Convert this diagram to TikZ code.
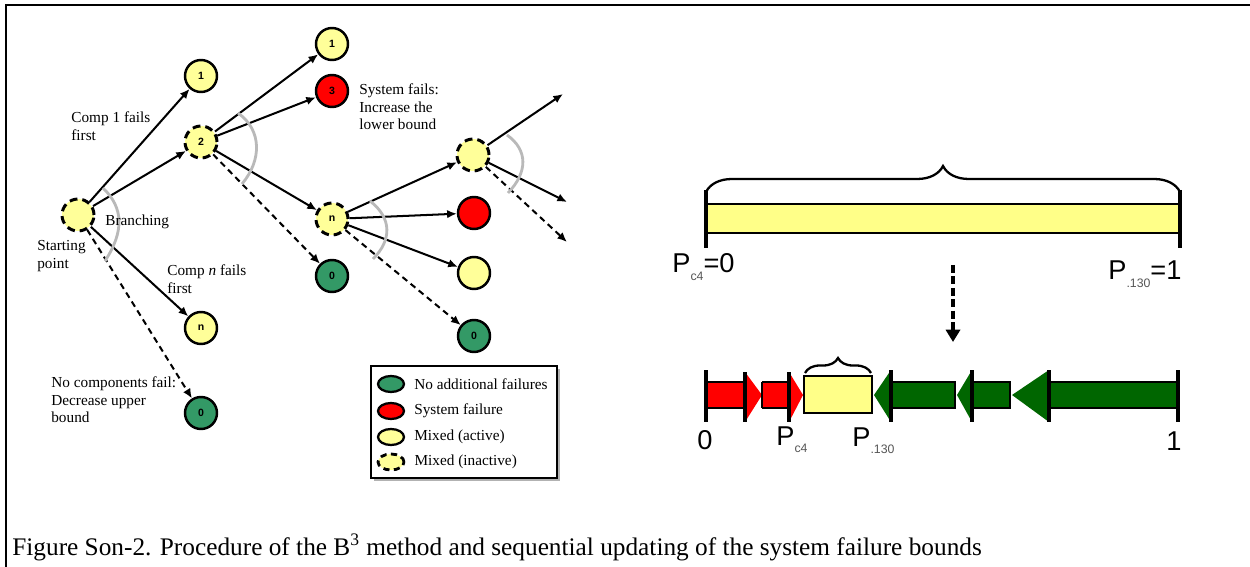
\documentclass[tikz,border=0pt]{standalone}
\usepackage{fontspec}
\setmainfont{Liberation Serif}
\setsansfont{Liberation Sans}
\usepackage{xcolor}
\usepackage{tikz}
\usetikzlibrary{arrows.meta, positioning, shapes.geometric, shadows, decorations.pathreplacing}
\definecolor{nodeyellow}{HTML}{FFFF99}
\definecolor{nodered}{HTML}{FF0000}
\definecolor{nodegreen}{HTML}{339966}
\definecolor{bargreen}{HTML}{006600}
\definecolor{baryellow}{HTML}{FFFF88}
\definecolor{subgray}{HTML}{555555}

\begin{document}
\begin{tikzpicture}[
  x=0.02cm, y=-0.02cm,
  state/.style={circle, draw=black, line width=1.4pt, minimum size=0.64cm, inner sep=0pt,
                font=\sffamily\bfseries\fontsize{6}{7}\selectfont},
  mixed/.style={state, fill=nodeyellow},
  idle/.style={mixed, dash pattern=on 4.5pt off 2.8pt, line width=1.7pt},
  sysfail/.style={state, fill=nodered},
  nofail/.style={state, fill=nodegreen},
  lbl/.style={font=\fontsize{8.7}{9.9}\selectfont, align=left, inner sep=0pt, anchor=west},
  arr/.style={-{Latex[length=5.5pt,width=4.8pt]}, line width=1.15pt},
  darr/.style={arr, dash pattern=on 3.5pt off 2.5pt},
  brk/.style={draw=gray!55, line width=1.6pt},
  key/.style={ellipse, draw=black, line width=1.3pt, minimum width=0.52cm,
              minimum height=0.32cm, inner sep=0pt},
  plbl/.style={font=\sffamily\fontsize{15.5}{15.5}\selectfont, inner sep=0pt, anchor=base west},
  tick/.style={line width=2pt},
  hbase/.style={line width=1.8pt}
]
  \useasboundingbox (0,0) rectangle (1250,567);
  % Frame
  \draw[line width=1.1pt] (6,567) -- (6,5) -- (1250,5);

  % Tree: first level
  \node[idle] (start) at (78,215) {};
  \node[mixed] (c1) at (201,76) {1};
  \node[idle] (c2) at (201,142) {2};
  \node[mixed] (cn) at (201,328) {n};
  \node[nofail] (c0) at (201,413) {0};

  % Tree: second level
  \node[mixed] (d1) at (332,44) {1};
  \node[sysfail] (d3) at (332,91) {3};
  \node[idle] (dn) at (332,219) {n};
  \node[nofail] (d0) at (332,276) {0};

  % Tree: third level
  \node[idle] (em) at (473,155) {};
  \node[sysfail] (er) at (474,213) {};
  \node[mixed] (ey) at (474,273) {};
  \node[nofail] (e0) at (474,336) {0};
  \coordinate (f1) at (563,94);
  \coordinate (f2) at (567,202);
  \coordinate (f3) at (567,242);

  % Branches
  \draw[arr] (start) -- (c1);
  \draw[arr] (start) -- (c2);
  \draw[arr] (start) -- (cn);
  \draw[darr] (start) -- (c0);
  \draw[arr] (c2) -- (d1);
  \draw[arr] (c2) -- (d3);
  \draw[arr] (c2) -- (dn);
  \draw[darr] (c2) -- (d0);
  \draw[arr] (dn) -- (em);
  \draw[arr] (dn) -- (er);
  \draw[arr] (dn) -- (ey);
  \draw[darr] (dn) -- (e0);
  \draw[arr] (em) -- (f1);
  \draw[arr] (em) -- (f2);
  \draw[darr] (em) -- (f3);

  % Branching marks
  \draw[brk] (103,188) .. controls (124,208) and (124,232) .. (105,261);
  \draw[brk] (238,113) .. controls (262,130) and (262,160) .. (242,184);
  \draw[brk] (370,201) .. controls (392,218) and (392,240) .. (373,259);
  \draw[brk] (507,135) .. controls (528,150) and (528,172) .. (508,193);

  % Tree labels
  \node[lbl] (lc1) at (71,126) {Comp 1 fails\\first};
  \node[lbl] (lbr) at (105,222) {Branching};
  \node[lbl] (lst) at (37,256) {Starting\\point};
  \node[lbl] (lcn) at (167,279) {Comp \textit{n} fails\\first};
  \node[lbl] (lnc) at (51,400) {No components fail:\\Decrease upper\\bound};
  \node[lbl] (lsf) at (359,107) {System fails:\\Increase the\\lower bound};

  % Legend
  \node[draw=black, line width=0.6pt, fill=white, minimum width=3.72cm, minimum height=2.24cm,
        drop shadow={shadow xshift=1.6pt, shadow yshift=-1.6pt, fill=gray!60, opacity=1}]
    (legend) at (464,422) {};
  \node[key, fill=nodegreen] (k0) at (391,384) {};
  \node[key, fill=nodered] (k1) at (391,411) {};
  \node[key, fill=nodeyellow] (k2) at (391,437) {};
  \node[key, fill=nodeyellow, dash pattern=on 3.5pt off 2.5pt, line width=1.6pt] (k3) at (391,462) {};
  \node[lbl, right=5pt of k0] (t0) {No additional failures};
  \node[lbl, right=5pt of k1] (t1) {System failure};
  \node[lbl, right=5pt of k2] (t2) {Mixed (active)};
  \node[lbl, right=5pt of k3] (t3) {Mixed (inactive)};

  % Initial bounds
  \draw[line width=1.6pt, fill=baryellow] (706,204) rectangle (1180,233);
  \draw[tick] (706,190) -- (706,248);
  \draw[tick] (1180,190) -- (1180,248);
  \draw[line width=1.3pt, decorate, decoration={brace, amplitude=0.52cm}] (706,192) -- (1180,192);
  \node[plbl] (plo) at (672,273) {P\raisebox{-4pt}{\fontsize{7}{7}\selectfont\color{subgray}c4}=0};
  \node[plbl] (pup) at (1108,280) {P\raisebox{-4pt}{\fontsize{7}{7}\selectfont\color{subgray}.130}=1};

  % Update step
  \coordinate (drop) at (953,265);
  \coordinate (land) at (953,342);
  \draw[line width=2.3pt, dash pattern=on 4.5pt off 2pt, -{Triangle[length=7pt,width=8pt]}] (drop) -- (land);

  % Updated bounds
  \fill[nodered] (706,382) -- (745,382) -- (745,372) -- (762,395) -- (745,422) -- (745,408) -- (706,408) -- cycle;
  \fill[nodered] (762,382) -- (789,382) -- (789,372) -- (803,395) -- (789,422) -- (789,408) -- (762,408) -- cycle;
  \draw[line width=1.1pt] (706,382) -- (745,382) (706,408) -- (745,408);
  \draw[line width=1.1pt] (762,382) -- (789,382) (762,408) -- (789,408) (762,382) -- (762,408);
  \draw[hbase] (745,372) -- (745,422);
  \draw[hbase] (789,372) -- (789,422);
  \draw[line width=1.3pt, fill=baryellow] (804,376) rectangle (872,413);
  \draw[line width=1.3pt, decorate, decoration={brace, amplitude=0.3cm}] (805,373) -- (871,373);

  \fill[bargreen] (874,395) -- (891,370) -- (891,382) -- (955,382) -- (955,408) -- (891,408) -- (891,422) -- cycle;
  \fill[bargreen] (957,395) -- (972,370) -- (972,382) -- (1010,382) -- (1010,408) -- (972,408) -- (972,422) -- cycle;
  \fill[bargreen] (1012,395) -- (1049,370) -- (1049,382) -- (1178,382) -- (1178,408) -- (1049,408) -- (1049,422) -- cycle;
  \draw[line width=1.1pt] (891,382) -- (955,382) -- (955,408) -- (891,408);
  \draw[line width=1.1pt] (972,382) -- (1010,382) -- (1010,408) -- (972,408);
  \draw[line width=1.1pt] (1049,382) -- (1178,382) (1049,408) -- (1178,408);
  \draw[hbase] (891,370) -- (891,422);
  \draw[hbase] (972,370) -- (972,422);
  \draw[hbase] (1049,370) -- (1049,422);
  \draw[tick] (706,370) -- (706,422);
  \draw[tick] (1178,370) -- (1178,422);

  \node[plbl] (zero) at (697,449) {0};
  \node[plbl] (plo2) at (776,445) {P\raisebox{-4pt}{\fontsize{7}{7}\selectfont\color{subgray}c4}};
  \node[plbl] (pup2) at (852,446) {P\raisebox{-4pt}{\fontsize{7}{7}\selectfont\color{subgray}.130}};
  \node[plbl] (one) at (1166,450) {1};

  % Caption
  \node[inner sep=0pt, anchor=base west, font=\fontsize{14.4}{16}\selectfont] (cap) at (12,555)
    {Figure Son-2. Procedure of the B\textsuperscript{3} method and sequential updating of the system failure bounds};
\end{tikzpicture}
\end{document}
